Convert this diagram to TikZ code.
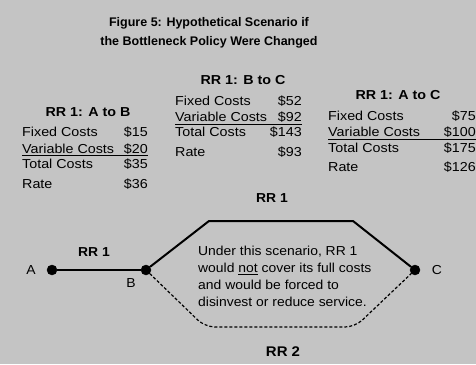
\documentclass[tikz,border=0pt]{standalone}
\usepackage{fontspec}
\setmainfont{Liberation Sans}
\newfontfamily\tblfont[FakeStretch=1.1]{Liberation Sans}
\newfontfamily\txtfont[FakeStretch=1.07]{Liberation Sans}
\definecolor{bgc}{HTML}{C4C4C4}
\begin{document}
\begin{tikzpicture}[x=1pt,y=-1pt,
  ttl/.style={font=\bfseries\fontsize{12.5}{14}\selectfont, inner sep=0pt},
  hd/.style={font=\tblfont\bfseries\fontsize{13}{15}\selectfont, inner sep=0pt},
  lab/.style={font=\tblfont\fontsize{13}{15}\selectfont, inner sep=0pt, anchor=base west},
  val/.style={font=\tblfont\fontsize{13}{15}\selectfont, inner sep=0pt, anchor=base east},
  ul/.style={line width=0.9pt},
  dot/.style={circle, fill=black, draw=black, minimum size=10pt, inner sep=0pt},
  lbl/.style={font=\txtfont\fontsize{13}{15}\selectfont, inner sep=0pt},
  rr/.style={font=\txtfont\bfseries\fontsize{13}{15}\selectfont, inner sep=0pt},
  solidpath/.style={line width=2pt},
  dashpath/.style={line width=1.2pt, dash pattern=on 3pt off 2pt, rounded corners=10pt}
]
\fill[bgc] (0,0) rectangle (476,364);
\useasboundingbox (0,0) rectangle (476,364);

% title
\node[ttl] (t1) at (209,23) {Figure 5: Hypothetical Scenario if};
\node[ttl] (t2) at (209,42) {the Bottleneck Policy Were Changed};

% left table
\node[hd] (lh) at (88,112) {RR 1: A to B};
\node[lab] (l1) at (22,136.5) {Fixed Costs};
\node[val] (l1v) at (148,136.5) {\$15};
\node[lab] (l2) at (22,153) {Variable Costs};
\node[val] (l2v) at (148,153) {\$20};
\node[lab] (l3) at (22,168.5) {Total Costs};
\node[val] (l3v) at (148,168.5) {\$35};
\node[lab] (l4) at (22,188.5) {Rate};
\node[val] (l4v) at (148,188.5) {\$36};
\draw[ul] ([yshift=-2.5pt]l2.base west) -- ([yshift=-2.5pt]l2v.base east);

% middle table
\node[hd] (mh) at (243,80) {RR 1: B to C};
\node[lab] (m1) at (175,105.5) {Fixed Costs};
\node[val] (m1v) at (302,105.5) {\$52};
\node[lab] (m2) at (175,121.5) {Variable Costs};
\node[val] (m2v) at (302,121.5) {\$92};
\node[lab] (m3) at (175,136.5) {Total Costs};
\node[val] (m3v) at (302,136.5) {\$143};
\node[lab] (m4) at (175,156.5) {Rate};
\node[val] (m4v) at (302,156.5) {\$93};
\draw[ul] ([yshift=-2.5pt]m2.base west) -- ([yshift=-2.5pt]m2v.base east);

% right table
\node[hd] (rh) at (398,95) {RR 1: A to C};
\node[lab] (r1) at (328,120.5) {Fixed Costs};
\node[val] (r1v) at (476,120.5) {\$75};
\node[lab] (r2) at (328,136.5) {Variable Costs};
\node[val] (r2v) at (476,136.5) {\$100};
\node[lab] (r3) at (328,152.5) {Total Costs};
\node[val] (r3v) at (476,152.5) {\$175};
\node[lab] (r4) at (328,171.5) {Rate};
\node[val] (r4v) at (476,171.5) {\$126};
\draw[ul] ([yshift=-2.5pt]r2.base west) -- ([yshift=-2.5pt]r2v.base east);

% network
\node[dot] (A) at (52,270) {};
\node[dot] (B) at (146,270) {};
\node[dot] (C) at (415,270) {};
\node[lbl] (Al) at (31,270) {A};
\node[lbl] (Bl) at (131,283) {B};
\node[lbl] (Cl) at (437,270) {C};
\coordinate (p1) at (209,221);
\coordinate (p2) at (353,221);
\coordinate (q1) at (205,327);
\coordinate (q2) at (355,327);
\draw[solidpath] (A) -- (B);
\draw[solidpath] (B) -- (p1) -- (p2) -- (C);
\draw[dashpath] (B) -- (q1) -- (q2) -- (C);
\node[rr] (rr1a) at (94,252) {RR 1};
\node[rr] (rr1b) at (272,198) {RR 1};
\node[rr, font=\txtfont\bfseries\fontsize{14}{16}\selectfont] (rr2) at (283,352) {RR 2};

\node[lbl, anchor=north west, align=left, font=\txtfont\fontsize{13}{17}\selectfont] (note) at (198,246)
  {Under this scenario, RR 1\\ would \underline{not} cover its full costs\\ and would be forced to\\ disinvest or reduce service.};
\end{tikzpicture}
\end{document}
